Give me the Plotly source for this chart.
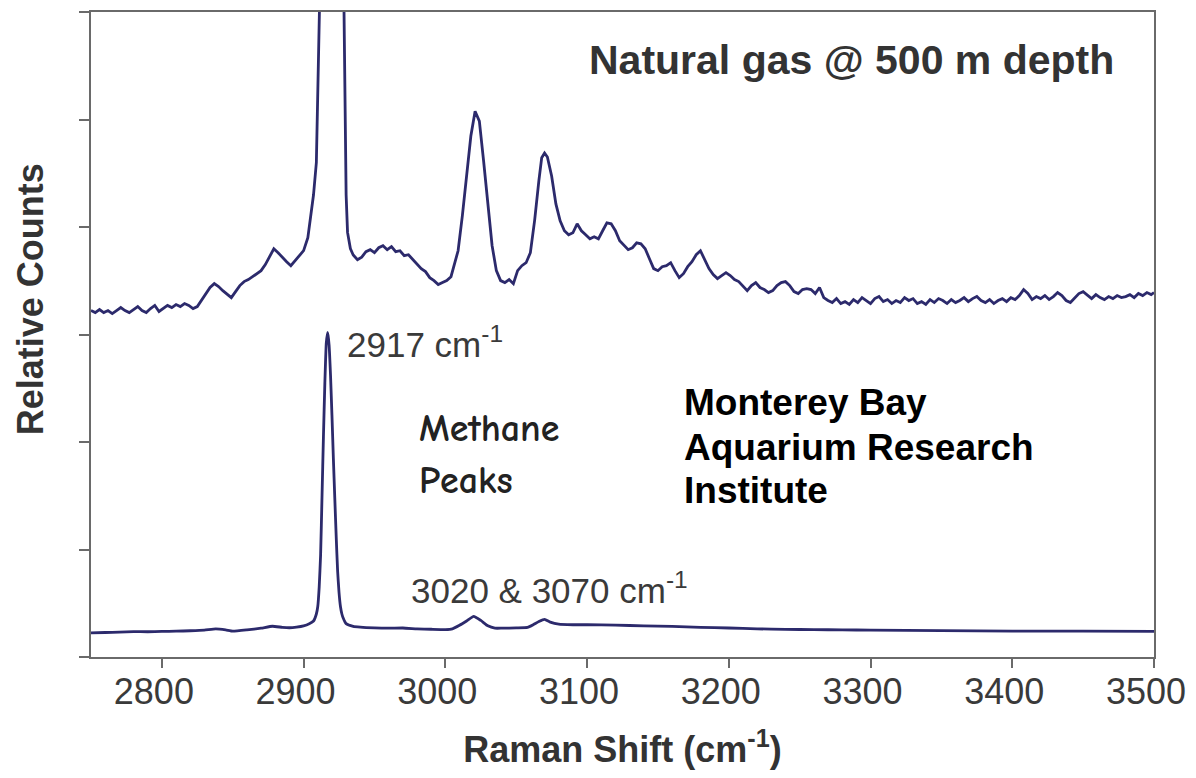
import plotly.graph_objects as go

# Raman spectrum of natural gas at 500 m depth (upper trace)
UPPER_SHIFT = [
    2750, 2753, 2756, 2759, 2762, 2765, 2768, 2771, 2774, 2777, 2780, 2783, 2786, 2789,
    2792, 2795, 2798, 2801, 2804, 2807, 2810, 2813, 2816, 2819, 2822, 2825, 2828, 2831,
    2834, 2837, 2840, 2843, 2846, 2849, 2852, 2855, 2858, 2861, 2864, 2867, 2870, 2873,
    2876, 2879, 2882, 2885, 2888, 2891, 2894, 2897, 2900, 2903, 2905, 2907, 2909, 2911,
    2913, 2917, 2921, 2925, 2928, 2930, 2931, 2933, 2935, 2938, 2941, 2944, 2947, 2950,
    2953, 2956, 2959, 2962, 2965, 2968, 2971, 2974, 2977, 2980, 2983, 2986, 2989, 2992,
    2995, 2998, 3001, 3004, 3006, 3009, 3012, 3015, 3018, 3021, 3024, 3027, 3030, 3033,
    3036, 3039, 3042, 3045, 3048, 3051, 3054, 3057, 3060, 3063, 3066, 3068, 3070, 3072,
    3075, 3078, 3081, 3084, 3087, 3090, 3093, 3096, 3099, 3102, 3105, 3108, 3111, 3114,
    3117, 3120, 3123, 3126, 3129, 3132, 3135, 3138, 3141, 3144, 3147, 3150, 3153, 3156,
    3159, 3162, 3165, 3168, 3171, 3174, 3177, 3180, 3183, 3186, 3189, 3192, 3195, 3198,
    3201, 3204, 3207, 3210, 3213, 3216, 3219, 3222, 3225, 3228, 3231, 3234, 3237, 3240,
    3243, 3246, 3249, 3252, 3255, 3258, 3261, 3264, 3267, 3270, 3273, 3276, 3279, 3282,
    3285, 3288, 3291, 3294, 3297, 3300, 3303, 3306, 3309, 3312, 3315, 3318, 3321, 3324,
    3327, 3330, 3333, 3336, 3339, 3342, 3345, 3348, 3351, 3354, 3357, 3360, 3363, 3366,
    3369, 3372, 3375, 3378, 3381, 3384, 3387, 3390, 3393, 3396, 3399, 3402, 3405, 3408,
    3411, 3414, 3417, 3420, 3423, 3426, 3429, 3432, 3435, 3438, 3441, 3444, 3447, 3450,
    3453, 3456, 3459, 3462, 3465, 3468, 3471, 3474, 3477, 3480, 3483, 3486, 3489, 3492,
    3495, 3498, 3500,
]
UPPER_COUNTS = [
    3223, 3204, 3232, 3204, 3223, 3195, 3223, 3251, 3223, 3204, 3232, 3260, 3223, 3204,
    3241, 3270, 3214, 3241, 3270, 3251, 3279, 3260, 3288, 3270, 3241, 3260, 3316, 3381,
    3437, 3473, 3446, 3408, 3371, 3343, 3399, 3455, 3492, 3511, 3538, 3566, 3594, 3650,
    3724, 3798, 3761, 3714, 3677, 3640, 3686, 3733, 3780, 3900, 4085, 4300, 4600, 6100,
    7200, 7900, 8000, 7600, 6600, 4300, 3950, 3800, 3740, 3695, 3720, 3770, 3789, 3761,
    3807, 3826, 3789, 3817, 3770, 3779, 3733, 3742, 3696, 3659, 3613, 3585, 3529, 3501,
    3464, 3483, 3501, 3538, 3631, 3779, 4104, 4475, 4846, 5077, 4985, 4614, 4196, 3826,
    3594, 3501, 3483, 3511, 3473, 3594, 3640, 3668, 3761, 4062, 4432, 4645, 4688, 4651,
    4475, 4215, 4057, 3965, 3927, 3946, 4030, 3965, 3927, 3890, 3909, 3890, 3965, 4039,
    4030, 3965, 3872, 3826, 3789, 3807, 3853, 3844, 3798, 3705, 3613, 3594, 3631, 3640,
    3668, 3594, 3529, 3566, 3631, 3677, 3742, 3779, 3696, 3613, 3557, 3520, 3548, 3575,
    3548, 3511, 3492, 3446, 3408, 3455, 3483, 3437, 3418, 3390, 3408, 3455, 3483, 3492,
    3455, 3399, 3381, 3418, 3427, 3418, 3381, 3437, 3343, 3316, 3297, 3334, 3288, 3306,
    3279, 3325, 3297, 3343, 3316, 3288, 3334, 3353, 3306, 3325, 3288, 3316, 3297, 3343,
    3316, 3334, 3288, 3306, 3279, 3325, 3297, 3334, 3316, 3288, 3325, 3297, 3316, 3343,
    3306, 3334, 3353, 3316, 3297, 3325, 3288, 3316, 3334, 3306, 3343, 3325, 3362, 3418,
    3381, 3325, 3353, 3334, 3362, 3325, 3353, 3390, 3362, 3316, 3297, 3343, 3381, 3399,
    3362, 3334, 3371, 3343, 3325, 3353, 3334, 3362, 3343, 3353, 3371, 3343, 3381, 3362,
    3390, 3371, 3390,
]

# Reference methane spectrum (lower trace)
METHANE_SHIFT = [
    2750, 2760, 2770, 2780, 2790, 2800, 2810, 2820, 2830, 2838, 2845, 2850, 2860, 2870,
    2878, 2885, 2890, 2895, 2900, 2904, 2907, 2909, 2910, 2911, 2912, 2913, 2914, 2915,
    2916, 2917, 2918, 2919, 2920, 2921, 2922, 2923, 2924, 2925, 2926, 2927, 2928, 2930,
    2935, 2940, 2950, 2960, 2970, 2980, 2990, 3000, 3005, 3010, 3015, 3020, 3025, 3030,
    3035, 3040, 3050, 3058, 3062, 3066, 3070, 3074, 3080, 3090, 3100, 3120, 3140, 3160,
    3180, 3200, 3220, 3240, 3260, 3280, 3300, 3350, 3400, 3450, 3500,
]
METHANE_COUNTS = [
    224, 228, 232, 236, 235, 238, 240, 244, 250, 262, 252, 240, 252, 268,
    286, 276, 272, 278, 290, 310, 335, 400, 470, 650, 950, 1500, 2050, 2550,
    2920, 3020, 2900, 2620, 2250, 1850, 1480, 1120, 800, 600, 470, 400, 360, 310,
    285, 278, 271, 268, 270, 262, 258, 255, 262, 295, 335, 378, 340, 290,
    268, 268, 271, 275, 300, 330, 350, 325, 305, 300, 300, 296, 290, 285,
    276, 270, 262, 257, 255, 252, 250, 245, 241, 240, 239,
]

X_TICKS = [2800, 2900, 3000, 3100, 3200, 3300, 3400, 3500]
Y_TICKS = [0, 1000, 2000, 3000, 4000, 5000, 6000]

LINE_COLOR = "#2c2a6c"
AXIS_COLOR = "#6a6a6a"
TEXT_GRAY = "#3a3a3a"
FONT = "Arial, Liberation Sans, sans-serif"

fig = go.Figure()
fig.add_trace(go.Scatter(x=UPPER_SHIFT, y=UPPER_COUNTS, mode="lines",
                         line=dict(color=LINE_COLOR, width=2.8), hoverinfo="skip"))
fig.add_trace(go.Scatter(x=METHANE_SHIFT, y=METHANE_COUNTS, mode="lines",
                         line=dict(color=LINE_COLOR, width=2.8, shape="spline", smoothing=0.4),
                         hoverinfo="skip"))


def note(text, x, y, size, color, weight="normal", family=FONT, anchor="left", angle=0):
    fig.add_annotation(text=text, x=x, y=y, xref="paper", yref="paper",
                       xanchor=anchor, yanchor="middle", showarrow=False, textangle=angle,
                       font=dict(family=family, size=size, color=color, weight=weight))


def px_x(p):
    return (p - 91) / 1066


def px_y(p):
    return (657.5 - p) / 648


note("Natural gas @ 500 m depth", px_x(588), px_y(58), 41, "#333333", "bold")
note("2917 cm<sup>-1</sup>", px_x(346), px_y(341), 35, TEXT_GRAY)
note("3020 & 3070 cm<sup>-1</sup>", px_x(410), px_y(588), 35, TEXT_GRAY)
comic = "Comic Sans MS, Comic Neue, Lato, sans-serif"
note("Methane", px_x(418), px_y(428), 38, "#222222", "bold", comic)
note("Peaks", px_x(418), px_y(481), 38, "#222222", "bold", comic)
note("Monterey Bay", px_x(684), px_y(402), 37, "#000000", "bold")
note("Aquarium Research", px_x(684), px_y(447), 37, "#000000", "bold")
note("Institute", px_x(684), px_y(490), 37, "#000000", "bold")
# vertical axis caption
note("Relative Counts", px_x(30), px_y(298), 36, "#333333", "bold", anchor="center", angle=-90)

fig.update_layout(
    width=1196, height=778,
    margin=dict(l=91, r=39, t=10, b=121),
    paper_bgcolor="white", plot_bgcolor="white",
    showlegend=False,
    xaxis=dict(
        range=[2750, 3500], tickvals=X_TICKS, ticks="outside", ticklen=9,
        tickwidth=1.5, tickcolor=AXIS_COLOR, showline=True, linecolor=AXIS_COLOR,
        linewidth=2, mirror=True, showgrid=False, zeroline=False,
        tickfont=dict(family=FONT, size=36, color=TEXT_GRAY),
        ticklabelshift=-8, ticklabelstandoff=-7,
        title=dict(text="Raman Shift (cm<sup>-1</sup>)", standoff=26,
                   font=dict(family=FONT, size=36, color="#333333", weight="bold")),
    ),
    yaxis=dict(
        range=[0, 6000], tickvals=Y_TICKS, showticklabels=False, ticks="outside",
        ticklen=10, tickwidth=1.5, tickcolor=AXIS_COLOR, showline=True,
        linecolor=AXIS_COLOR, linewidth=2, mirror=True, showgrid=False, zeroline=False,
    ),
)

fig.write_html("out.html")
